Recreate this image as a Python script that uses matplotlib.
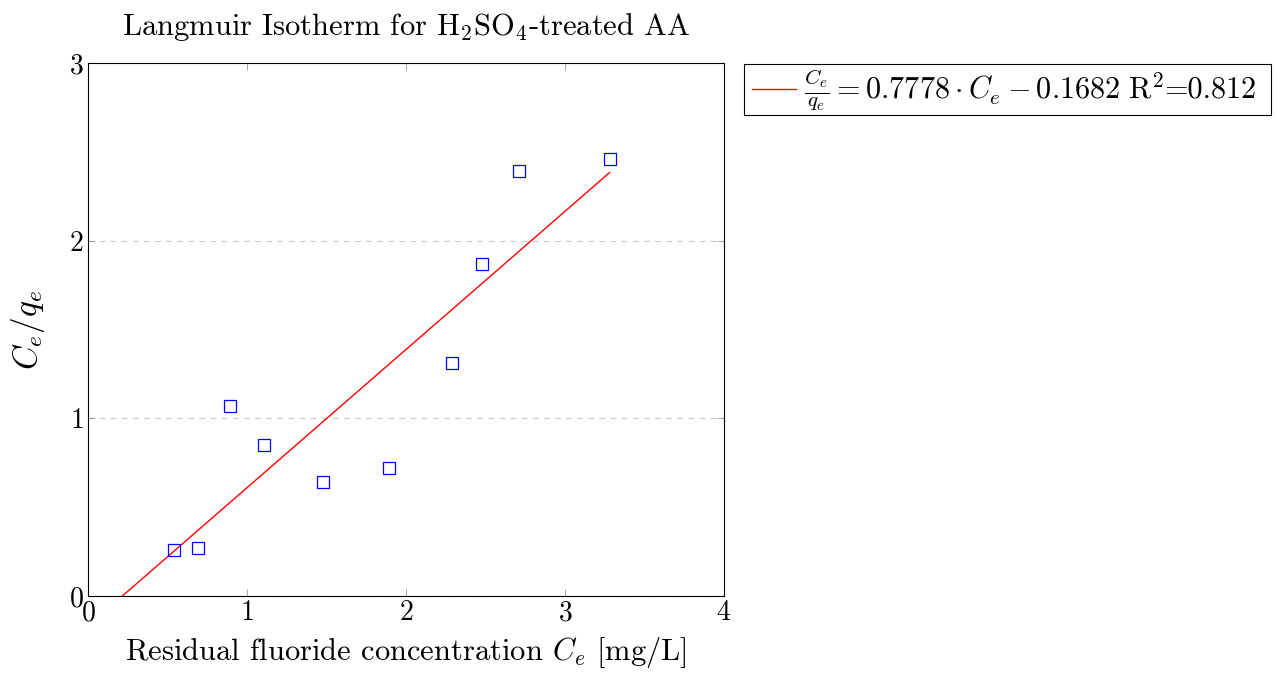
import numpy as np
import matplotlib
matplotlib.use('Agg')
from matplotlib import pyplot as plt
from matplotlib.lines import Line2D
from matplotlib.offsetbox import AnchoredOffsetbox, DrawingArea, HPacker, TextArea

plt.rcParams['font.family'] = 'cmr10'
plt.rcParams['mathtext.fontset'] = 'cm'
plt.rcParams['axes.formatter.use_mathtext'] = True

# data
ce = [0.54, 0.69, 0.89, 1.11, 1.48, 1.89, 2.29, 2.48, 2.71, 3.28]
ce_qe = [0.26, 0.27, 1.07, 0.85, 0.64, 0.72, 1.31, 1.87, 2.39, 2.46]
slope = 0.7778
intercept = -0.1682
r2 = 0.812

fig = plt.figure(figsize=(12.8, 6.77), dpi=100)
ax = fig.add_axes([88/1280, 1-596/677, (724-88)/1280, (596-63)/677])

ax.plot(ce, ce_qe, ls='none', marker='s', mfc='none', mec='blue', ms=8, mew=0.9, zorder=3)
xfit = np.array([0, max(ce)])
ax.plot(xfit, slope * xfit + intercept, color='red', lw=1)

ax.set_xlim(0, 4)
ax.set_ylim(0, 3)
ax.set_xticks([0, 1, 2, 3, 4])
ax.set_yticks([0, 1, 2, 3])
ax.tick_params(direction='in', top=True, right=True, labelsize=20, length=5, width=0.5, color='gray', pad=3)
ax.yaxis.grid(True, ls=(0, (5, 5)), color='#c8c8c8', lw=0.8)
for s in ax.spines.values():
    s.set_linewidth(0.8)

ax.set_xlabel(r'Residual fluoride concentration $C_e$ [mg/L]', fontsize=22, labelpad=6)
ax.set_ylabel(r'$C_e/q_e$', fontsize=24, labelpad=16)
ax.set_title(r'Langmuir Isotherm for H$_2$SO$_4$-treated AA', fontsize=22, pad=20)

# legend built by hand so the text-mode "=0.812" sits right after R^2
# (DrawingArea sizes are in points)
handle = DrawingArea(42, 7, 0, 0)
handle.add_artist(Line2D([4, 36], [3.5, 3.5], color='red', lw=1))
eq = TextArea(r'$\frac{C_e}{q_e} = 0.7778 \cdot C_e - 0.1682\ \mathrm{R}^2$',
              textprops=dict(fontsize=21.8))
val = TextArea('=%.3f' % r2, textprops=dict(fontsize=21.8))
tail = DrawingArea(9, 7, 0, 0)
row = HPacker(children=[handle, eq, val, tail], align='center', pad=0, sep=0)
box = AnchoredOffsetbox(loc='upper left', child=row, pad=0.15, borderpad=0,
                        bbox_to_anchor=(744/1280, 1-64/677), bbox_transform=fig.transFigure,
                        frameon=True)
box.patch.set_edgecolor('black')
box.patch.set_linewidth(0.8)
box.patch.set_boxstyle('square', pad=0)
fig.add_artist(box)

fig.savefig('out.png', dpi=100)
